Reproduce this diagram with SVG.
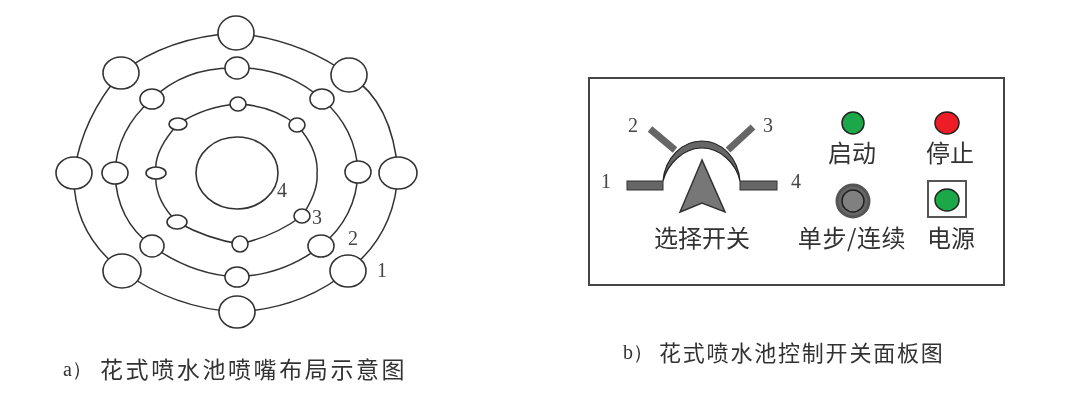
<svg xmlns="http://www.w3.org/2000/svg" width="1080" height="412" viewBox="0 0 1080 412">
<defs><filter id="soft" x="0" y="0" width="1080" height="412" filterUnits="userSpaceOnUse"><feGaussianBlur stdDeviation="0.65"/></filter></defs>
<style>
.ring{fill:none;stroke:#333;stroke-width:1.5}
.noz{fill:#fff;stroke:#333;stroke-width:1.6}
.num{font-family:"Liberation Serif",serif;font-size:20px;fill:#444;text-anchor:middle;dominant-baseline:central}
.cn{font-family:"Noto Sans CJK SC",sans-serif;font-size:24px;fill:#333;text-anchor:middle;dominant-baseline:central}
.cap{font-family:"Noto Sans CJK SC",sans-serif;fill:#333;dominant-baseline:central}
.lat{font-family:"Liberation Serif",serif;font-size:20px;fill:#333;dominant-baseline:central}
.bar{fill:#666;stroke:#333;stroke-width:1}
.lever{stroke:#666;stroke-width:7;fill:none}
.g{fill:#1aa84a;stroke:#222;stroke-width:1.5}
</style>
<rect width="1080" height="412" fill="#fff"/>
<g filter="url(#soft)">
<g id="connectors">
<path class="ring" d="M236 33Q301.5 40 349 75Q392.5 102 398 173Q395 234 348 271Q301.5 308.5 237 312Q174.5 308.5 122 271Q72 232 74 173Q82.5 117 121 73Q167.5 37 236 33Z"/>
<path class="ring" d="M237 68Q284.5 66.500 322 99Q356 128.500 358 172Q356.500 217 321 246Q285 274.500 237 277Q191.500 274.500 152 246Q116.500 220.500 115 173Q116.500 130 152 99Q185.500 66.500 237 68Z"/>
<path class="ring" d="M238 104Q272.500 105.500 297 125Q319 150 317 174Q318.500 191 302 216Q275 236 240 244Q207.500 239 177 222Q153.500 198.500 156 173Q153 151.500 178 124Q206 106 238 104Z"/>
</g>
<g id="center"><ellipse class="noz" cx="237" cy="173" rx="41" ry="36"/></g>
<g id="outer-nozzles">
<ellipse class="noz" cx="236" cy="33" rx="18" ry="17"/>
<ellipse class="noz" cx="349" cy="75" rx="18" ry="17"/>
<ellipse class="noz" cx="398" cy="173" rx="19" ry="16"/>
<ellipse class="noz" cx="348" cy="271" rx="18" ry="16"/>
<ellipse class="noz" cx="237" cy="312" rx="18" ry="16"/>
<ellipse class="noz" cx="122" cy="271" rx="19" ry="17"/>
<ellipse class="noz" cx="74" cy="173" rx="18" ry="16"/>
<ellipse class="noz" cx="121" cy="73" rx="18" ry="16"/>
</g>
<g id="middle-nozzles">
<ellipse class="noz" cx="237" cy="68" rx="12" ry="11"/>
<ellipse class="noz" cx="322" cy="99" rx="12" ry="10"/>
<ellipse class="noz" cx="358" cy="172" rx="13" ry="11"/>
<ellipse class="noz" cx="321" cy="246" rx="13" ry="11"/>
<ellipse class="noz" cx="237" cy="277" rx="12" ry="10"/>
<ellipse class="noz" cx="152" cy="246" rx="12" ry="11"/>
<ellipse class="noz" cx="115" cy="173" rx="13" ry="11"/>
<ellipse class="noz" cx="152" cy="99" rx="12" ry="10"/>
</g>
<g id="inner-nozzles">
<ellipse class="noz" cx="238" cy="104" rx="8" ry="7"/>
<ellipse class="noz" cx="297" cy="125" rx="8" ry="7"/>
<ellipse class="noz" cx="302" cy="216" rx="8" ry="7"/>
<ellipse class="noz" cx="240" cy="244" rx="8" ry="8"/>
<ellipse class="noz" cx="177" cy="222" rx="10" ry="7"/>
<ellipse class="noz" cx="156" cy="173" rx="10" ry="6"/>
<ellipse class="noz" cx="178" cy="124" rx="9" ry="6"/>
</g>
<text class="num" x="382" y="270">1</text>
<text class="num" x="353" y="238">2</text>
<text class="num" x="317" y="217">3</text>
<text class="num" x="282" y="190">4</text>
<text class="lat" x="63" y="369">a）</text>
<text class="cap" x="100" y="368" style="font-size:23px" letter-spacing="2.6">花式喷水池喷嘴布局示意图</text>
<g id="panel"><rect x="589" y="78" width="415" height="207" fill="#fff" stroke="#444" stroke-width="2"/></g>
<g id="selector">
<path class="lever" d="M650 129L675 150M753 127L728 150"/>
<path d="M663 181C665 158 682 141 702 141C722 141 738 158 740 181C736 163 720 148 702 148C684 148 668 163 663 181Z" fill="#666" stroke="#222" stroke-width="1.2"/>
<rect class="bar" x="627" y="181" width="36" height="9"/>
<rect class="bar" x="740" y="181" width="37" height="9"/>
<path d="M702 160L680 212L702 203L725 212Z" fill="#777" stroke="#333" stroke-width="1.5"/>
<text class="num" x="606" y="181">1</text>
<text class="num" x="633" y="125">2</text>
<text class="num" x="768" y="125">3</text>
<text class="num" x="796" y="181">4</text>
<text class="cn" x="702" y="236">选择开关</text>
</g>
<g id="start"><circle class="g" cx="853" cy="123" r="11"/><text class="cn" x="852" y="151">启动</text></g>
<g id="stop"><ellipse cx="947" cy="123" rx="12" ry="11" fill="#ee1c25" stroke="#222" stroke-width="1.5"/><text class="cn" x="950" y="151">停止</text></g>
<g id="knob"><circle cx="853" cy="201" r="16" fill="#666" stroke="#555" stroke-width="3"/><circle cx="853" cy="201" r="11" fill="#808080" stroke="#222" stroke-width="1.5"/><text class="cn" x="852" y="236" letter-spacing="0.6">单步/连续</text></g>
<g id="power"><rect x="928" y="181" width="38" height="36" fill="#fff" stroke="#555" stroke-width="2"/><ellipse class="g" cx="947" cy="200" rx="12" ry="11"/><text class="cn" x="951" y="236">电源</text></g>
<text class="lat" x="623" y="352">b）</text>
<text class="cap" x="659" y="351" style="font-size:22px" letter-spacing="1.8">花式喷水池控制开关面板图</text>
</g>
</svg>
